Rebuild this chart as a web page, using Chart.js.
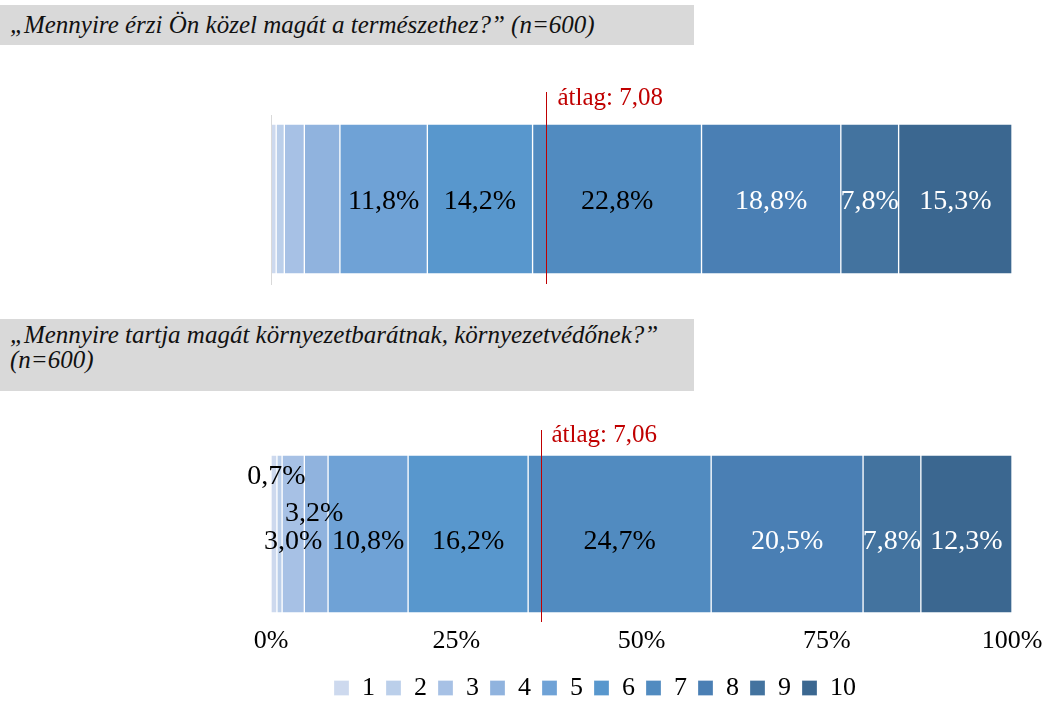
<!DOCTYPE html>
<html>
<head>
<meta charset="utf-8">
<script src="https://cdn.jsdelivr.net/npm/chart.js@4/dist/chart.umd.min.js"></script>
<style>
html,body{margin:0;padding:0;background:#fff;overflow:hidden;}
#wrap{position:relative;width:1046px;height:702px;overflow:hidden;background:#fff;}
.tbox{position:absolute;left:0;width:694px;background:#d9d9d9;font-family:"Liberation Serif","Times New Roman",serif;font-style:italic;font-size:25px;line-height:25px;color:#111;box-sizing:border-box;padding-left:10px;white-space:nowrap;}
#t1{top:5px;height:40px;padding-top:7px;}
#t2{top:319px;height:72px;padding-top:3px;}
#c1{position:absolute;left:0;top:0;}
#c2{position:absolute;left:0;top:400px;}
</style>
</head>
<body>
<div id="wrap">
  <div class="tbox" id="t1">„Mennyire érzi Ön közel magát a természethez?” (n=600)</div>
  <div class="tbox" id="t2">„Mennyire tartja magát környezetbarátnak, környezetvédőnek?”<br>(n=600)</div>
  <canvas id="c1" width="1046" height="300"></canvas>
  <canvas id="c2" width="1046" height="311"></canvas>
</div>
<script>
// ---- data ----
const categories = ['1','2','3','4','5','6','7','8','9','10'];
const natureValues = [0.7, 1.1, 2.7, 4.8, 11.8, 14.2, 22.8, 18.8, 7.8, 15.3];
const ecoValues    = [0.8, 0.7, 3.0, 3.2, 10.8, 16.2, 24.7, 20.5, 7.8, 12.3];
const natureShowLabel = [false,false,false,false,true,true,true,true,true,true];
const ecoShowLabel    = [false,true,true,true,true,true,true,true,true,true];
const means = [7.08, 7.06];
const meanLinePos = [37.1, 36.4]; // where the mean marker sits on the % axis
const xTicks = [0, 25, 50, 75, 100];

// ---- styles ----
const colors = ['#cdd9ee','#bbcfea','#a7c1e5','#90b3de','#6fa2d6','#5897cd','#518bc0','#4a7fb4','#43739f','#3b6790'];
const labelColors = ['#000','#000','#000','#000','#000','#000','#000','#fff','#fff','#fff'];
const SERIF = '"Liberation Serif","Times New Roman",serif';
const ecoLabelOffsets = {1:{dx:-3,dy:-65}, 3:{dx:-2,dy:-28}};

function fmt(v){ return v.toFixed(1).replace('.', ',') + '%'; }

function makeDatasets(values){
  return categories.map((c,i)=>({
    label: c,
    data: [values[i]],
    backgroundColor: colors[i],
    borderColor: 'rgba(255,255,255,0.28)',
    borderWidth: 1,
    borderSkipped: false,
    barPercentage: 1,
    categoryPercentage: 1
  }));
}

function labelPlugin(show, offsets, dyBase){
  return {
    id: 'segLabels',
    afterDatasetsDraw(chart){
      const ctx = chart.ctx;
      ctx.save();
      ctx.font = '28px ' + SERIF;
      ctx.textAlign = 'center';
      ctx.textBaseline = 'middle';
      chart.data.datasets.forEach((ds, i)=>{
        if(!show[i]) return;
        const el = chart.getDatasetMeta(i).data[0];
        const o = offsets[i] || {dx:0,dy:0};
        const x = (el.x + el.base)/2 + o.dx;
        const y = el.y + dyBase + o.dy;
        ctx.fillStyle = labelColors[i];
        ctx.fillText(fmt(ds.data[0]), x, y);
      });
      ctx.restore();
    }
  };
}

function meanPlugin(idx, above, below, textDx, textDy, axisLine){
  return {
    id: 'meanMark',
    afterDraw(chart){
      const ctx = chart.ctx;
      const a = chart.chartArea;
      const x = Math.round(chart.scales.x.getPixelForValue(meanLinePos[idx])) + 0.5;
      ctx.save();
      if(axisLine){
        ctx.strokeStyle = '#d9d9d9';
        ctx.lineWidth = 1;
        ctx.beginPath();
        ctx.moveTo(Math.round(a.left)+0.5, a.top - 9);
        ctx.lineTo(Math.round(a.left)+0.5, a.bottom + 11);
        ctx.stroke();
      }
      ctx.strokeStyle = '#c00000';
      ctx.lineWidth = 1;
      ctx.beginPath();
      ctx.moveTo(x, a.top - above);
      ctx.lineTo(x, a.bottom + below);
      ctx.stroke();
      ctx.fillStyle = '#c00000';
      ctx.font = '25px ' + SERIF;
      ctx.textAlign = 'left';
      ctx.textBaseline = 'alphabetic';
      ctx.fillText('átlag: ' + means[idx].toFixed(2).replace('.', ','), x + textDx, a.top - above + textDy);
      ctx.restore();
    }
  };
}

Chart.defaults.font.family = SERIF;
Chart.defaults.color = '#000';

new Chart(document.getElementById('c1'), {
  type: 'bar',
  data: { labels: ['a'], datasets: makeDatasets(natureValues) },
  options: {
    indexAxis: 'y',
    responsive: false,
    animation: false,
    layout: { padding: { left: 271, right: 34, top: 124, bottom: 26 } },
    scales: {
      x: { stacked: true, min: 0, max: 100, display: false },
      y: { stacked: true, display: false }
    },
    plugins: { legend: { display: false }, tooltip: { enabled: false } }
  },
  plugins: [labelPlugin(natureShowLabel, {}, 3), meanPlugin(0, 32, 10, 11, 13, true)]
});

new Chart(document.getElementById('c2'), {
  type: 'bar',
  data: { labels: ['b'], datasets: makeDatasets(ecoValues) },
  options: {
    indexAxis: 'y',
    responsive: false,
    animation: false,
    layout: { padding: { left: 178, right: 34, top: 55, bottom: 0 } },
    scales: {
      x: {
        stacked: true, min: 0, max: 100,
        afterBuildTicks(s){ s.ticks = xTicks.map(v=>({value:v})); },
        ticks: { font: { size: 26, family: SERIF, lineHeight: 2.05 }, color: '#000', padding: 2, callback: v => v + '%' },
        grid: { display: false, drawTicks: false },
        border: { display: false },
        afterFit(s){ s.height = 51; }
      },
      y: {
        stacked: true,
        ticks: { display: false },
        grid: { display: false, drawTicks: false },
        border: { display: false },
        afterFit(s){ s.width = 93; }
      }
    },
    plugins: {
      legend: {
        display: true, position: 'bottom',
        labels: { font: { size: 26, family: SERIF }, color: '#000', boxWidth: 15, boxHeight: 15, padding: 11 }
      },
      tooltip: { enabled: false }
    }
  },
  plugins: [labelPlugin(ecoShowLabel, ecoLabelOffsets, 8), meanPlugin(1, 25, 9, 10, 12, false)]
});
</script>
</body>
</html>
